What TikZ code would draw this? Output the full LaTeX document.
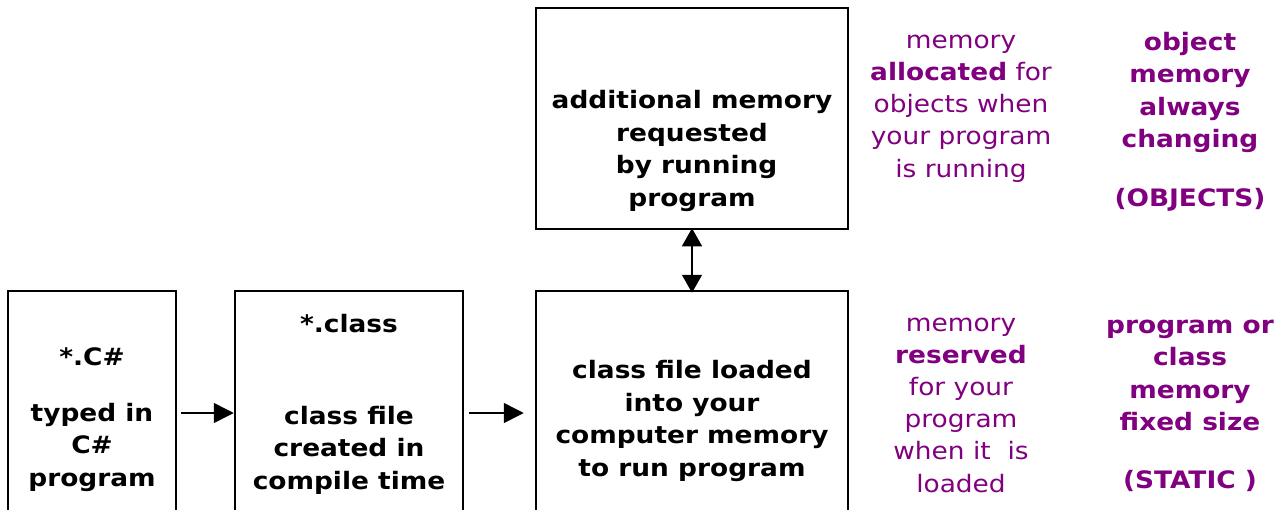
\documentclass[tikz,border=0pt]{standalone}
\usepackage{fontspec}
\setmainfont[FakeStretch=1.1]{DejaVu Sans}
\usetikzlibrary{arrows.meta}
\definecolor{notepurple}{RGB}{128,0,128}
\begin{document}
\begin{tikzpicture}[x=1pt,y=-1pt,
  box/.style={draw, line width=2.5pt, inner sep=0pt},
  boxtext/.style={font=\fontsize{24}{32.5}\selectfont\bfseries, align=center, inner sep=0pt, anchor=base},
  note/.style={font=\fontsize{24}{32.2}\selectfont, text=notepurple, align=center, inner sep=0pt, anchor=base},
  flow/.style={line width=1.5pt, -{Triangle[length=20pt,width=20pt]}},
  both/.style={line width=1.5pt, {Triangle[length=18pt,width=20pt]}-{Triangle[length=18pt,width=20pt]}},
]
\useasboundingbox (0,0) rectangle (1284,509);
\clip (0,0) rectangle (1284,509);

% boxes (the lower row runs past the bottom edge)
\node[box, minimum width=168pt, minimum height=260pt] (srcbox)   at (92,421)  {};
\node[box, minimum width=228pt, minimum height=260pt] (classbox) at (349,421) {};
\node[box, minimum width=312pt, minimum height=260pt] (loadbox)  at (692,421) {};
\node[box, minimum width=312pt, minimum height=221pt] (heapbox)  at (692,118.5) {};

% box texts (placed by the baseline of their last line)
\node[boxtext] (srctext)   at (92,486)  {*.C\#\\[23.5pt]typed in\\C\#\\program};
\node[boxtext] (classtext) at (349,489) {*.class\\[59.5pt]class file\\created in\\compile time};
\node[boxtext] (loadtext)  at (692,476) {class file loaded\\into your\\computer memory\\to run program};
\node[boxtext] (heaptext)  at (692,206) {additional memory\\requested\\\ by running\\program};

% notes on the right
\node[note] (heapnote) at (961,177) {memory\\\textbf{allocated} for\\objects when\\your program\\is running};
\node[note, font=\fontsize{24}{32.5}\selectfont\bfseries] (heapkind) at (1190,206)
  {object\\memory\\always\\changing\\[26pt](OBJECTS)};
\node[note] (loadnote) at (961,492) {memory\\\textbf{reserved}\\for your\\program\\when it \ is\\loaded};
\node[note, font=\fontsize{24}{32.5}\selectfont\bfseries] (loadkind) at (1190,488)
  {program or\\class\\memory\\fixed size\\[25pt](STATIC )};

% connectors
\coordinate (row) at (0,413);
\draw[flow] ([xshift=4pt]srcbox.east |- row) -- (classbox.west |- row);
\draw[flow] ([xshift=5pt]classbox.east |- row) -- ([xshift=-11pt]loadbox.west |- row);
\draw[both] ([yshift=2pt]heapbox.south) -- ([yshift=-3pt]loadbox.north);
\end{tikzpicture}
\end{document}
